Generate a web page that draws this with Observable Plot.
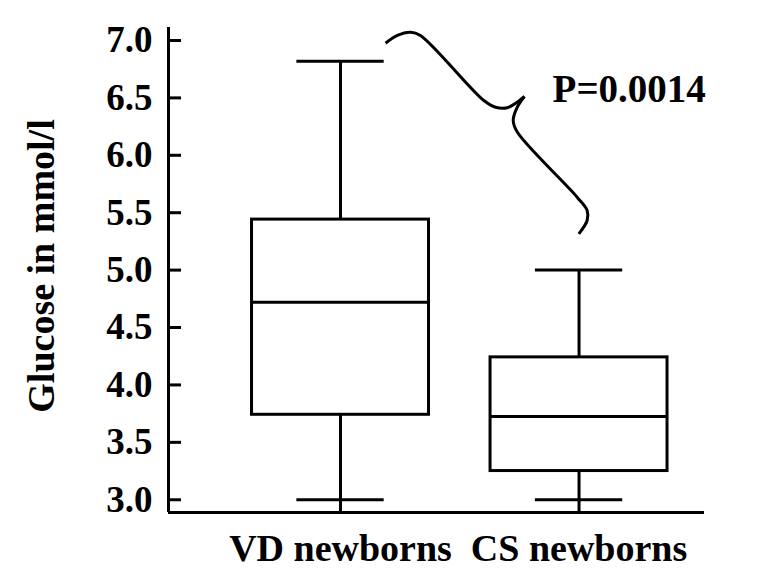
<!DOCTYPE html>
<html>
<head>
<meta charset="utf-8">
<script src="https://cdn.jsdelivr.net/npm/d3@7"></script>
<script src="https://cdn.jsdelivr.net/npm/@observablehq/plot@0.6"></script>
<style>
  html, body { margin: 0; padding: 0; background: #fff; }
  #chart svg { display: block; }
</style>
</head>
<body>
<div id="chart"></div>
<script>
// ---- data ----
const groups   = ["VD newborns", "CS newborns"];
const mins     = [3.00, 3.00];
const q1s      = [3.74, 3.25];
const medians  = [4.72, 3.725];
const q3s      = [5.44, 4.24];
const maxs     = [6.82, 5.00];
const yTicks   = [3.0, 3.5, 4.0, 4.5, 5.0, 5.5, 6.0, 6.5, 7.0];
const pLabel   = "P=0.0014";
// curly-brace annotation, in data units (x: group index, y: mmol/l)
const braceUpper = [
  [1.189, 6.976], [1.238, 7.044], [1.294, 7.072], [1.335, 7.044],
  [1.601, 6.477], [1.650, 6.419], [1.699, 6.414], [1.741, 6.463], [1.771, 6.512]
];
const braceLower = [
  [1.771, 6.512], [1.741, 6.419], [1.724, 6.303], [1.741, 6.202],
  [1.992, 5.635], [2.034, 5.519], [2.034, 5.432], [1.999, 5.316]
];

// ---- build ----
const boxes = groups.map((g, k) => ({
  g, i: k + 1, min: mins[k], q1: q1s[k], med: medians[k], q3: q3s[k], max: maxs[k]
}));
const xDomain = [0.2788, 2.526];
const yDomain = [2.889, 7.113];
const halfBox = 0.371, halfCap = 0.183, tickLen = 0.0545;
const brace = [
  ...braceUpper.map(([x, y]) => ({x, y, part: "a"})),
  ...braceLower.map(([x, y]) => ({x, y, part: "b"}))
];
const SW = 3;

const chart = Plot.plot({
  width: 771,
  height: 585,
  marginLeft: 168,
  marginRight: 67,
  marginTop: 27,
  marginBottom: 73,
  style: {fontFamily: "'Liberation Serif', 'Times New Roman', serif", fontWeight: "bold", background: "#fff", color: "#000"},
  x: {type: "linear", domain: xDomain},
  y: {type: "linear", domain: yDomain},
  marks: [
    Plot.axisY({ticks: yTicks, tickFormat: d3.format(".1f"), tickSize: 0, tickPadding: 16, fontSize: 37, label: null}),
    Plot.axisX({ticks: [1, 2], tickFormat: d => groups[d - 1], tickSize: 0, tickPadding: 22, fontSize: 38, label: null}),
    // axis lines and inward ticks
    Plot.ruleX([xDomain[0]], {stroke: "#000", strokeWidth: SW}),
    Plot.ruleY([yDomain[0]], {stroke: "#000", strokeWidth: SW}),
    Plot.ruleY(yTicks, {y: d => d, x1: xDomain[0], x2: xDomain[0] + tickLen, stroke: "#000", strokeWidth: SW}),
    // whiskers
    Plot.ruleX(boxes, {x: "i", y1: "q3", y2: "max", stroke: "#000", strokeWidth: SW}),
    Plot.ruleX(boxes, {x: "i", y1: yDomain[0], y2: "q1", stroke: "#000", strokeWidth: SW}),
    Plot.ruleY(boxes, {y: "max", x1: d => d.i - halfCap, x2: d => d.i + halfCap, stroke: "#000", strokeWidth: SW}),
    Plot.ruleY(boxes, {y: "min", x1: d => d.i - halfCap, x2: d => d.i + halfCap, stroke: "#000", strokeWidth: SW}),
    // boxes and medians
    Plot.rect(boxes, {x1: d => d.i - halfBox, x2: d => d.i + halfBox, y1: "q1", y2: "q3", fill: "none", stroke: "#000", strokeWidth: SW}),
    Plot.ruleY(boxes, {y: "med", x1: d => d.i - halfBox, x2: d => d.i + halfBox, stroke: "#000", strokeWidth: SW}),
    // brace + p-value
    Plot.line(brace, {x: "x", y: "y", z: "part", curve: "catmull-rom", stroke: "#000", strokeWidth: SW, strokeLinecap: "butt"}),
    Plot.text([pLabel], {x: 1.889, y: 6.46, text: d => d, textAnchor: "start", lineAnchor: "bottom", fontSize: 39, fontWeight: "bold", fill: "#000"}),
    // y-axis title
    Plot.text(["Glucose in mmol/l"], {frameAnchor: "left", textAnchor: "middle", lineAnchor: "middle", rotate: -90, dx: -127, dy: -4, text: d => d, fontSize: 38, fontWeight: "bold", fill: "#000"})
  ]
});
document.getElementById("chart").appendChild(chart);
</script>
</body>
</html>
